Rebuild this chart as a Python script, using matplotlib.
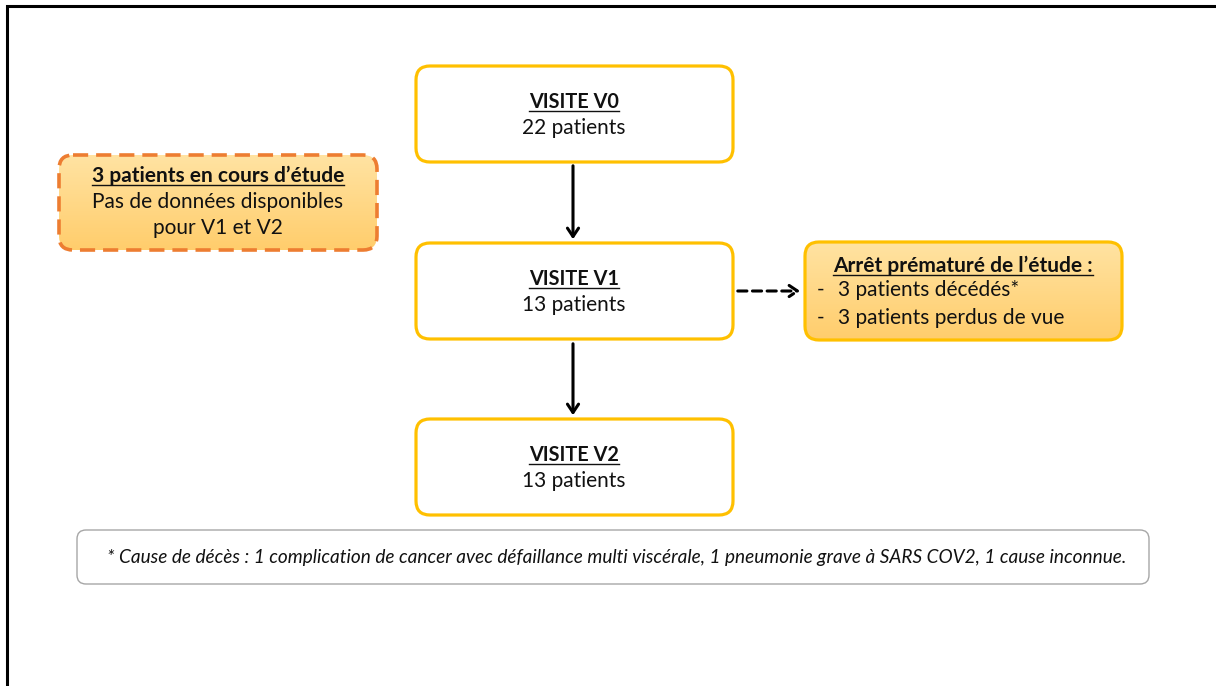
import numpy as np
import matplotlib.pyplot as plt
from matplotlib.patches import FancyBboxPatch
from matplotlib.colors import LinearSegmentedColormap

plt.rcParams['font.family'] = ['Lato', 'DejaVu Sans']

# texts of the flow chart
visit_titles = ["VISITE V0", "VISITE V1", "VISITE V2"]
visit_counts = [22, 13, 13]
side_title = "3 patients en cours d\u2019\u00e9tude"
side_lines = ["Pas de donn\u00e9es disponibles", "pour V1 et V2"]
stop_title = "Arr\u00eat pr\u00e9matur\u00e9 de l\u2019\u00e9tude :"
stop_items = ["3 patients d\u00e9c\u00e9d\u00e9s*", "3 patients perdus de vue"]
footnote = ("* Cause de d\u00e9c\u00e8s : 1 complication de cancer avec d\u00e9faillance multi visc\u00e9rale, "
            "1 pneumonie grave \u00e0 SARS COV2, 1 cause inconnue.")

W, H = 1216, 686
FS = 15
fig = plt.figure(figsize=(W / 100, H / 100), dpi=100)
ax = fig.add_axes([0, 0, 1, 1])
ax.set_xlim(0, W)
ax.set_ylim(H, 0)
ax.axis('off')

yellow = '#FFC000'
orange = '#ED7D31'
grad = LinearSegmentedColormap.from_list('g', ['#FFE3A2', '#FFCD6C'])

# page border (left and top only)
ax.plot([7, 7, W], [H, 6, 6], color='black', lw=2.2, solid_joinstyle='miter')


def box(x0, y0, x1, y1, ec, ls='-', lw=2.3, fill=None, rad=14):
    p = FancyBboxPatch((x0 + rad, y0 + rad), x1 - x0 - 2 * rad, y1 - y0 - 2 * rad,
                       boxstyle='round,pad=%d' % rad, fc='white' if fill is None else 'none',
                       ec=ec, lw=lw, ls=ls, zorder=3)
    ax.add_patch(p)
    if fill is not None:
        img = np.linspace(0, 1, 100).reshape(-1, 1)
        im = ax.imshow(img, cmap=fill, extent=(x0, x1, y1, y0), aspect='auto', zorder=2)
        im.set_clip_path(p)
    return p


underlines = []


def title_text(x, y, s, size=FS):
    t = ax.text(x, y, s, ha='center', va='center', fontsize=size, fontweight='bold',
                color='#111111', zorder=5)
    underlines.append(t)
    return t


def plain(x, y, s, ha='center'):
    ax.text(x, y, s, ha=ha, va='center', fontsize=FS, color='#111111', zorder=5)


# visit boxes
tops = [66, 243, 419]
for title, n, top in zip(visit_titles, visit_counts, tops):
    box(416, top, 733, top + 96, yellow)
    title_text(574, top + 36, title, size=14.3)
    plain(574, top + 62, "%d patients" % n)

# vertical arrows
for a, b in [(163, 242), (341, 418)]:
    ax.annotate('', xy=(573, b), xytext=(573, a),
                arrowprops=dict(arrowstyle='->,head_length=0.6,head_width=0.4',
                                color='black', lw=2.2), zorder=4)

# left dashed box
box(59, 155, 377, 250, orange, ls=(0, (4.2, 2.2)), lw=2.6, fill=grad)
title_text(218, 176, side_title)
plain(218, 202, side_lines[0])
plain(218, 228, side_lines[1])

# right box
box(805, 242, 1122, 340, yellow, fill=grad)
title_text(963, 266, stop_title)
for i, s in enumerate(stop_items):
    y = 290 + 28 * i
    plain(821, y, "-")
    plain(838, y, s, ha='left')

# dashed arrow
ax.annotate('', xy=(803, 291), xytext=(735, 291),
            arrowprops=dict(arrowstyle='->,head_length=0.6,head_width=0.4',
                            color='black', lw=2.2, ls=(0, (3.0, 1.8))), zorder=4)

# footnote box
box(77, 530, 1149, 584, '#A6A6A6', lw=1.0, rad=9)
ax.text(617, 557, footnote, ha='center', va='center', fontsize=13.7, style='italic',
        color='#111111', zorder=5)

# underlines
fig.canvas.draw()
r = fig.canvas.get_renderer()
inv = ax.transData.inverted()
for t in underlines:
    bb = t.get_window_extent(r)
    (xa, ya), (xb, yb) = inv.transform([(bb.x0, bb.y0), (bb.x1, bb.y1)])
    ax.plot([xa, xb], [ya - 1, ya - 1], color='#111111', lw=1.0, zorder=5)

fig.savefig('out.png', dpi=100)
